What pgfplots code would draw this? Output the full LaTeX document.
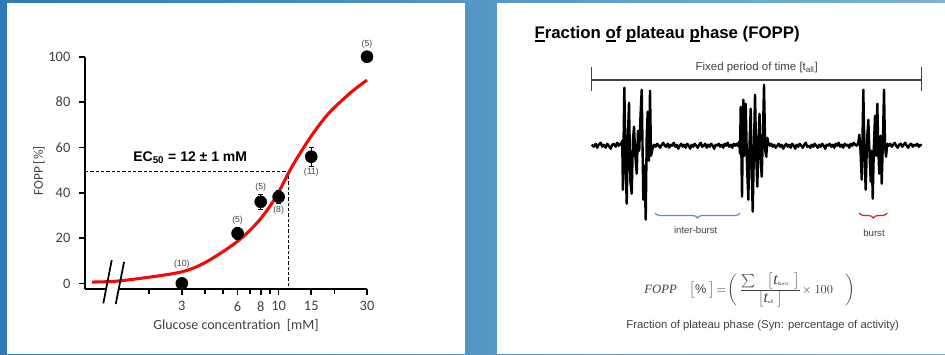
\documentclass[border=0pt]{standalone}
\usepackage{pgfplots}
\pgfplotsset{compat=1.18}
\usepackage{fontspec}
\setmainfont{Liberation Sans}
\newfontfamily\carlito{Carlito}
\newfontfamily\serif{Liberation Serif}
\usetikzlibrary{decorations.pathreplacing}
\definecolor{bgL}{RGB}{46,122,182}
\definecolor{bgR}{RGB}{122,178,213}
\definecolor{tgray}{RGB}{64,64,64}
\definecolor{fitred}{RGB}{240,10,10}
\definecolor{braceblue}{RGB}{85,140,210}
\definecolor{bracered}{RGB}{230,30,30}
\newlength\ulw
\newcommand\ul[1]{\settowidth\ulw{#1}\rlap{\rule[-2.4pt]{\ulw}{0.9pt}}#1}
\begin{document}
\begin{tikzpicture}[x=0.75pt,y=-0.75pt]
\shade[left color=bgL,right color=bgR] (0,0) rectangle (945,354);
\fill[white] (7,3) rectangle (465,354);
\fill[white] (497,3) rectangle (945,354);

% ---------------- left chart ----------------
\begin{axis}[at={(63.75pt,-216.98pt)}, anchor=south west, scale only axis,
  width=211.5pt, height=174.45pt,
  xmode=log, xmin=0.9, xmax=30, ymin=-2.6, ymax=100,
  axis lines=left, axis line style={line width=1.5pt,-},
  clip=false,
  xtick={3,6,8,10,15,30}, xticklabels={3,6,8,10,15,30},
  minor xtick={2,4,5,7,9,20},
  ytick={0,20,40,60,80,100}, yticklabels={0,20,40,60,80,100},
  tick align=outside, major tick length=4.5pt, minor tick length=3.5pt,
  every tick/.style={line width=1.2pt,black},
  tick label style={font=\carlito\fontsize{10.8}{12}\selectfont, text=tgray},
  /pgf/number format/assume math mode=true,
  xticklabel style={yshift=-1pt},
  yticklabel style={xshift=-3pt},
]
% axis break gap
\fill[white] (axis cs:1.181,-0.75) -- (axis cs:1.381,-0.75) -- (axis cs:1.351,-4.9) -- (axis cs:1.156,-4.9) -- cycle;
% EC50 dashed guide
\addplot[black, line width=0.8pt, dash pattern=on 2.4pt off 1.6pt] coordinates {(0.9,49.2) (11.35,49.2) (11.35,-2.6)};
% fitted curve
\addplot[fitred, line width=2.3pt, smooth, tension=0.55] coordinates {
(0.98,0.6) (1.335,1.0) (2.02,2.8) (2.5,3.9) (3,5.1) (3.5,6.9) (4.09,9.6) (5,14.0) (6,18.6) (7,23.4) (8,28.6) (9,34.2) (10,40.3) (11.35,49.0) (12,52.5) (13,57.2) (15,65.0) (17.5,72.4) (20,77.6) (25,84.8) (30,89.7)};
% break marks
\draw[black, line width=1.3pt] (axis cs:1.255,10.3) -- (axis cs:1.130,-8.8);
\draw[black, line width=1.3pt] (axis cs:1.463,9.5) -- (axis cs:1.319,-9.1);
% data points
\addplot[only marks, mark=*, mark size=4.5pt, black,
  error bars/.cd, y dir=both, y explicit,
  error bar style={line width=0.6pt,black},
  error mark options={rotate=90,mark size=1.8pt,line width=0.6pt,black}]
  coordinates {(6,22.1) +- (0,2.5) (8,36.0) +- (0,3.4) (10,38.2) +- (0,3.0) (15,55.9) +- (0,4.2)};
\addplot[only marks, mark=*, mark size=4.5pt, black] coordinates {(3,0) (30,100)};
% n labels
\begin{scope}[every node/.style={font=\fontsize{6.5}{7}\selectfont, text=tgray, inner sep=0pt}]
\node at (axis cs:3,8.5) {(10)};
\node at (axis cs:6,27.9) {(5)};
\node at (axis cs:8,42.6) {(5)};
\node at (axis cs:10,32.3) {(8)};
\node at (axis cs:15,49.2) {(11)};
\node at (axis cs:30,105.4) {(5)};
\end{scope}
\node[font=\bfseries\fontsize{10.5}{12}\selectfont, inner sep=0pt] at (axis cs:3.33,55.3) {EC\textsubscript{50} = 12 ± 1 mM};
\end{axis}
\node[font=\carlito\fontsize{10.5}{12}\selectfont, text=tgray] at (236,325.7) {Glucose concentration\ \ [mM]};
\node[font=\carlito\fontsize{10}{12}\selectfont, text=tgray, rotate=90] at (39,171) {FOPP [\%]};

% ---------------- right schematic ----------------
\node[anchor=base west, inner sep=0pt, font=\bfseries\fontsize{12.6}{15}\selectfont] at (534.3,38.3)
  {\ul{F}raction \ul{o}f \ul{p}lateau \ul{p}hase (FOPP)};
\draw[tgray, line width=1.1pt] (591.7,80) -- (921.7,80);
\draw[tgray, line width=1.1pt] (591.7,66.7) -- (591.7,91);
\draw[tgray, line width=1.1pt] (921.7,66.7) -- (921.7,91);
\node[font=\fontsize{8.6}{10}\selectfont, text=tgray] at (756.7,67.7) {Fixed period of time [t\textsubscript{all}]};

\begin{axis}[at={(443.78pt,-165.53pt)}, anchor=south west, scale only axis,
  width=247.5pt, height=101.25pt, xmin=0, xmax=330, ymin=-75, ymax=60,
  hide axis, clip=false]
\addplot[black, line width=1.8pt, line join=round] coordinates {
(0,1)(2,-1)(4,2)(5.5,-2)(7,1)(9,3)(10.5,-1)(12,1)(14,-2)(15.5,2)(17,0)(19,-3)(20.5,1)(22,2)(24,-1)(25.5,3)(27,0)(28.5,2)
(29,1)(30.5,5)(31.2,-44)(32.6,58)(34,-20)(35,-58)(36.2,10)(37.3,43)(38.6,-35)(40,-48)(41.2,5)(42.3,19)(43.6,-10)(45,-28)(46.3,15)(47.5,-5)(48.8,30)(50,56)(51.6,-54)(52.8,-20)(54,-74)(55,10)(56,34)(57.2,-15)(58.3,55)(59.3,-10)(60,-7)(61,-2)(62.5,1)
(64,-1)(65.5,2)(67,0)(68.5,-2)(70,1)(71.5,3)(73,0)(74.5,-1)(76,2)(77.5,-2)(79,1)(80.5,0)(82,3)(83.5,-1)(85,1)(86.5,-3)(88,0)(89.5,2)(91,-1)(92.5,1)(94,-2)(95.5,2)(97,0)(98.5,-3)(100,1)(101.5,-1)(103,2)(104.5,0)(106,-2)(107.5,1)(109,3)(110.5,-1)(112,0)(113.5,2)(115,-2)(116.5,1)(118,-1)(119.5,2)(121,0)(122.5,-3)(124,1)(125.5,0)(127,2)(128.5,-1)(130,1)(131.5,-2)(133,2)(134.5,0)(136,3)(137.5,-1)(139,1)(140.5,-2)(142,2)(143.5,0)(145,2)
(146,0)(147.6,4)(148.3,-8)(149,39)(150.3,-51)(151.6,46)(152.8,-10)(154,42)(155.3,-20)(156.6,-54)(157.8,0)(159,37)(160,-25)(161,-66)(162.2,-5)(163.3,51)(164.5,-10)(165.6,-41)(166.8,5)(167.8,32)(169,-15)(170,-31)(171.2,10)(172.3,61)(173.5,-5)(174.6,-11)(175.6,8)(176.6,3)(178,0)
(179.5,2)(181,-1)(182.5,1)(184,-2)(185.5,0)(187,2)(188.5,-1)(190,1)(191.5,-3)(193,0)(194.5,2)(196,-1)(197.5,1)(199,-2)(200.5,2)(202,0)(203.5,-3)(205,1)(206.5,-1)(208,2)(209.5,0)(211,-2)(212.5,1)(214,3)(215.5,-1)(217,0)(218.5,-2)(220,1)(221.5,-1)(223,2)(224.5,0)(226,-2)(227.5,1)(229,-1)(230.5,2)(232,0)(233.5,-3)(235,1)(236.5,0)(238,2)(239.5,-1)(241,1)(242.5,-2)(244,2)(245.5,0)(247,3)(248.5,-1)(250,1)(251.5,-2)(253,2)(254.5,0)(256,1)(257.5,-2)(259,2)(260.5,0)(262,3)(263.5,1)
(265,0)(266.6,3)(267.6,11)(268.8,-5)(270,-34)(271,20)(271.6,56)(272.8,-10)(274,-44)(275.3,5)(276.6,26)(277.8,-8)(279,-36)(280,-5)(281,-53)(282.2,0)(283.3,30)(284.4,-10)(285.6,42)(286.6,-5)(287.6,-28)(288.8,10)(290,-38)(291.2,5)(292.3,56)(293.3,0)(294.3,-11)(295.6,2)(297,0)
(298.5,2)(300,-1)(301.5,1)(303,3)(304.5,0)(306,-2)(307.5,1)(309,2)(310.5,-1)(312,1)(313.5,3)(315,0)(316.5,-2)(318,1)(319.5,2)(321,-1)(322.5,1)(324,0)(325.5,2)(327,-1)(328.5,1)(330,0)};
\end{axis}

\draw[braceblue, line width=0.9pt, decorate, decoration={brace, amplitude=3.75pt}] (740,213) -- (655,213);
\node[font=\fontsize{7.2}{9}\selectfont, text=tgray] at (695.7,230) {inter-burst};
\draw[bracered, line width=0.9pt, decorate, decoration={brace, amplitude=3.75pt}] (887.3,213) -- (859.3,213);
\node[font=\fontsize{7.2}{9}\selectfont, text=tgray] at (874,233.3) {burst};

\node[font=\serif\fontsize{9.5}{11}\selectfont, text=tgray] at (750,290)
 {$\mbox{\itshape FOPP}\quad\bigl[\%\;\bigr]\!=\!\left(\,\frac{\textstyle\sum\quad\bigl[\mbox{\large\itshape t}_{\mbox{\fontsize{3.8}{4}\selectfont\itshape burst}}\;\,\bigr]}{\textstyle\bigl[\mbox{\large\itshape t}_{\mbox{\fontsize{3.8}{4}\selectfont\itshape all}}\;\bigr]}\!\times 100\quad\right)$};
\node[font=\fontsize{8.5}{10}\selectfont, text=tgray] at (762.7,325.7) {Fraction of plateau phase (Syn: percentage of activity)};
\end{tikzpicture}
\end{document}
